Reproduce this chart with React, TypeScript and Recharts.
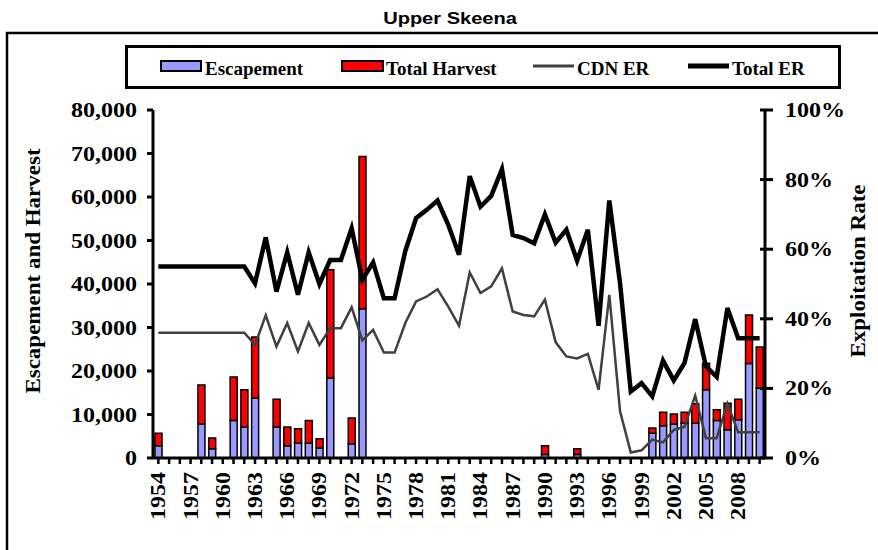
import React from 'react';
import { ComposedChart, Bar, Line, XAxis, YAxis, Legend } from 'recharts';

const years = [
  1954, 1955, 1956, 1957, 1958, 1959, 1960, 1961, 1962, 1963,
  1964, 1965, 1966, 1967, 1968, 1969, 1970, 1971, 1972, 1973,
  1974, 1975, 1976, 1977, 1978, 1979, 1980, 1981, 1982, 1983,
  1984, 1985, 1986, 1987, 1988, 1989, 1990, 1991, 1992, 1993,
  1994, 1995, 1996, 1997, 1998, 1999, 2000, 2001, 2002, 2003,
  2004, 2005, 2006, 2007, 2008, 2009, 2010,
];

const escapement = [
  2800, null, null, null, 7800, 2100, null, 8600, 7100, 13800,
  null, 7100, 2800, 3400, 3400, 2300, 18400, null, 3300, 34300,
  null, null, null, null, null, null, null, null, null, null,
  null, null, null, null, null, null, 800, null, null, 800,
  null, null, null, null, null, null, 5700, 7400, 7800, 8000,
  8000, 15700, 8600, 6500, 8800, 21700, 16100,
];

const totalHarvest = [
  2900, null, null, null, 9000, 2500, null, 10000, 8600, 14000,
  null, 6400, 4300, 3300, 5200, 2100, 24900, null, 5900, 35000,
  null, null, null, null, null, null, null, null, null, null,
  null, null, null, null, null, null, 2000, null, null, 1300,
  null, null, null, null, null, null, 1200, 3100, 2300, 2500,
  4500, 6100, 2500, 6100, 4700, 11200, 9400,
];

const cdnEr = [
  36, 36, 36, 36, 36, 36, 36, 36, 36, 32.5,
  41, 32, 38.8, 30.6, 38.8, 32.5, 37.3, 37.3, 43.3, 33.8,
  36.8, 30.3, 30.3, 38.8, 45, 46.4, 48.5, 43.5, 38, 53.3,
  47.4, 49.3, 54.5, 42.1, 41.1, 40.7, 45.5, 33.3, 29.2, 28.6,
  29.9, 19.6, 46.9, 13.4, 1.6, 2.2, 5.3, 4.5, 8.1, 8.9,
  17.9, 5.7, 5.7, 15.6, 7.4, 7.4, 7.4,
];

const totalEr = [
  55, 55, 55, 55, 55, 55, 55, 55, 55, 50.2,
  63.4, 47.8, 59.1, 46.9, 59.1, 50, 56.9, 56.9, 66, 51.2,
  56.2, 45.9, 45.9, 59.5, 68.9, 71.3, 74, 67, 58.4, 81,
  72.2, 75.3, 83, 64.1, 63.2, 61.7, 70, 61.9, 65.6, 56.7,
  65.6, 38, 74, 50.2, 19.1, 21.5, 17.7, 28, 22.3, 27.3,
  39.9, 26.3, 23.3, 43.1, 34.4, 34.4, 34.4,
];

const leftTicks = [0, 10000, 20000, 30000, 40000, 50000, 60000, 70000, 80000];
const rightTicks = [0, 20, 40, 60, 80, 100];

const data = years.map((year, i) => ({
  year,
  escapement: escapement[i],
  harvest: totalHarvest[i],
  cdnEr: cdnEr[i],
  totalEr: totalEr[i],
}));

const SERIF = '"Liberation Serif", "Times New Roman", serif';
const SANS = '"Liberation Sans", Arial, sans-serif';

const LeftTick = (props: any) => {
  const { x, y, payload } = props;
  return (
    <text
      transform={`translate(${x},${y}) scale(1.2,1)`}
      textAnchor="end"
      dy="0.35em"
      fontSize={20}
      fontWeight="bold"
      fontFamily={SERIF}
      fill="#000"
    >
      {payload.value.toLocaleString('en-US')}
    </text>
  );
};

const RightTick = (props: any) => {
  const { x, y, payload } = props;
  const axisX = x - 20;
  return (
    <g>
      <line x1={axisX - 5} x2={axisX} y1={y} y2={y} stroke="#000" strokeWidth={3} />
      <text
        transform={`translate(${x},${y}) scale(1.2,1)`}
        textAnchor="start"
        dy="0.35em"
        fontSize={20}
        fontWeight="bold"
        fontFamily={SERIF}
        fill="#000"
      >
        {payload.value}%
      </text>
    </g>
  );
};

const YearTick = (props: any) => {
  const { x, y, payload } = props;
  if ((payload.value - 1954) % 3 !== 0) return null;
  return (
    <text
      transform={`translate(${x},${y}) rotate(-90) scale(1.2,1)`}
      textAnchor="end"
      dy="0.35em"
      fontSize={20}
      fontWeight="bold"
      fontFamily={SERIF}
      fill="#000"
    >
      {payload.value}
    </text>
  );
};

const LegendBox = () => (
  <svg width={716} height={44} style={{ display: 'block' }}>
    <rect x={1.5} y={1.5} width={713} height={41} fill="#fff" stroke="#000" strokeWidth={3} />
    <rect x={36} y={16} width={40} height={10} fill="#9999ff" stroke="#000" strokeWidth={2} />
    <text x={80} y={30} fontSize={19} fontWeight="bold" fontFamily={SERIF}>Escapement</text>
    <rect x={217} y={16} width={41} height={10} fill="#ff0000" stroke="#000" strokeWidth={2} />
    <text x={261} y={30} fontSize={19} fontWeight="bold" fontFamily={SERIF}>Total Harvest</text>
    <line x1={408} x2={449} y1={21} y2={21} stroke="#404040" strokeWidth={3} />
    <text x={452} y={30} fontSize={19} fontWeight="bold" fontFamily={SERIF}>CDN ER</text>
    <line x1={563} x2={604} y1={21} y2={21} stroke="#000" strokeWidth={5} />
    <text x={607} y={30} fontSize={19} fontWeight="bold" fontFamily={SERIF}>Total ER</text>
  </svg>
);

export default function App() {
  return (
    <div style={{ position: 'absolute', left: 0, top: 0, width: 878, height: 550, background: '#fff' }}>
      <svg width={878} height={550} style={{ position: 'absolute', left: 0, top: 0 }}>
        <path d="M7,552 L7,33 L880,33" fill="none" stroke="#000" strokeWidth={2.5} />
        <text
          transform="translate(450,24) scale(1.18,1)"
          textAnchor="middle"
          fontSize={17}
          fontWeight="bold"
          fontFamily={SANS}
        >
          Upper Skeena
        </text>
        <text
          transform="translate(40,271) rotate(-90) scale(1.15,1)"
          textAnchor="middle"
          fontSize={20}
          fontWeight="bold"
          fontFamily={SERIF}
        >
          Escapement and Harvest
        </text>
        <text
          transform="translate(865,271) rotate(-90) scale(1.15,1)"
          textAnchor="middle"
          fontSize={20}
          fontWeight="bold"
          fontFamily={SERIF}
        >
          Exploitation Rate
        </text>
      </svg>
      <div style={{ position: 'absolute', left: 0, top: 0 }}>
        <ComposedChart
          width={878}
          height={550}
          data={data}
          margin={{ top: 110, right: 0, bottom: 0, left: 0 }}
        >
          <XAxis
            dataKey="year"
            interval={0}
            height={92}
            tickSize={6}
            tickMargin={8}
            tick={<YearTick />}
            axisLine={{ stroke: '#000', strokeWidth: 3 }}
            tickLine={{ stroke: '#000', strokeWidth: 2.5 }}
          />
          <YAxis
            yAxisId="left"
            width={153}
            domain={[0, 80000]}
            ticks={leftTicks}
            tickSize={6}
            tickMargin={10}
            tick={<LeftTick />}
            axisLine={{ stroke: '#000', strokeWidth: 3 }}
            tickLine={{ stroke: '#000', strokeWidth: 3 }}
          />
          <YAxis
            yAxisId="right"
            orientation="right"
            width={113}
            domain={[0, 100]}
            ticks={rightTicks}
            tickSize={8}
            tickMargin={12}
            tick={<RightTick />}
            axisLine={{ stroke: '#000', strokeWidth: 3 }}
            tickLine={{ stroke: '#000', strokeWidth: 3 }}
          />
          <Legend
            layout="horizontal"
            verticalAlign="middle"
            align="center"
            content={() => <LegendBox />}
            wrapperStyle={{ position: 'absolute', left: 125, top: 45, width: 716, height: 44 }}
          />
          <Bar
            yAxisId="left"
            dataKey="escapement"
            name="Escapement"
            stackId="a"
            barSize={7}
            fill="#9999ff"
            stroke="#000"
            strokeWidth={1.5}
            isAnimationActive={false}
          />
          <Bar
            yAxisId="left"
            dataKey="harvest"
            name="Total Harvest"
            stackId="a"
            barSize={7}
            fill="#ff0000"
            stroke="#000"
            strokeWidth={1.5}
            isAnimationActive={false}
          />
          <Line
            yAxisId="right"
            dataKey="cdnEr"
            name="CDN ER"
            type="linear"
            stroke="#404040"
            strokeWidth={2.5}
            dot={false}
            activeDot={false}
            isAnimationActive={false}
          />
          <Line
            yAxisId="right"
            dataKey="totalEr"
            name="Total ER"
            type="linear"
            stroke="#000"
            strokeWidth={4.5}
            strokeLinejoin="miter"
            dot={false}
            activeDot={false}
            isAnimationActive={false}
          />
        </ComposedChart>
      </div>
    </div>
  );
}
